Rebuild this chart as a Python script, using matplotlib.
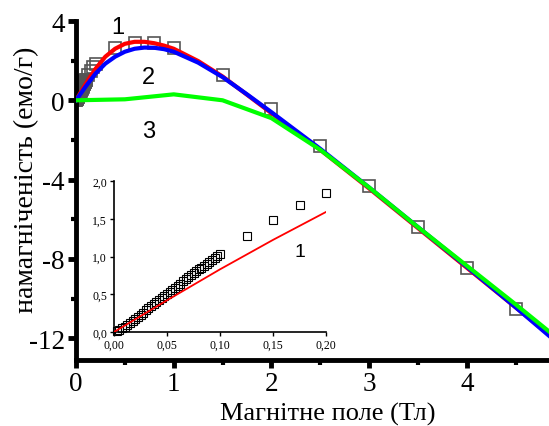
import matplotlib
matplotlib.use('Agg')
import matplotlib.pyplot as plt
from matplotlib.ticker import MultipleLocator, FixedLocator

# ---------------- data ----------------
# measured points (squares)
dense_x = [0.0025, 0.005, 0.0075, 0.01, 0.0125, 0.015, 0.0175, 0.02, 0.0225, 0.025,
           0.0275, 0.03, 0.0325, 0.035, 0.0375, 0.04, 0.0425, 0.045, 0.0475, 0.05,
           0.0525, 0.055, 0.0575, 0.06, 0.0625, 0.065, 0.0675, 0.07, 0.0725, 0.075,
           0.0775, 0.08, 0.0825, 0.085, 0.0875, 0.09, 0.0925, 0.095, 0.0975, 0.1]
dense_y = [0.015, 0.033, 0.052, 0.072, 0.094, 0.118, 0.143, 0.170, 0.198, 0.227,
           0.256, 0.285, 0.315, 0.344, 0.372, 0.400, 0.428, 0.455, 0.481, 0.507,
           0.534, 0.561, 0.588, 0.615, 0.642, 0.669, 0.696, 0.723, 0.749, 0.776,
           0.802, 0.828, 0.854, 0.880, 0.906, 0.932, 0.958, 0.984, 1.010, 1.036]
mid_x = [0.125, 0.15, 0.175, 0.2]
mid_y = [1.27, 1.49, 1.68, 1.84]
high_x = [0.4, 0.6, 0.8, 1.0, 1.5, 2.0, 2.5, 3.0, 3.5, 4.0, 4.5]
high_y = [2.65, 2.9, 2.9, 2.62, 1.27, -0.42, -2.3, -4.34, -6.4, -8.45, -10.55]

# curve 1 (red)
c1_x = [0, 0.05, 0.1, 0.15, 0.2, 0.3, 0.4, 0.5, 0.6, 0.7, 0.8, 0.9, 1.0, 1.25, 1.5,
        1.75, 2.0, 2.5, 3.0, 3.5, 4.0, 4.5, 5.0]
c1_y = [0, 0.42, 0.83, 1.22, 1.59, 2.2, 2.6, 2.85, 2.95, 2.95, 2.88, 2.76, 2.6, 1.98, 1.2,
        0.28, -0.65, -2.5, -4.45, -6.45, -8.45, -10.45, -12.45]
# curve 2 (blue)
c2_x = [0, 0.1, 0.2, 0.3, 0.4, 0.5, 0.6, 0.7, 0.8, 0.9, 1.0, 1.25, 1.5, 1.75, 2.0,
        2.5, 3.0, 3.5, 4.0, 4.5, 5.0]
c2_y = [0, 0.7, 1.35, 1.85, 2.2, 2.45, 2.6, 2.66, 2.65, 2.58, 2.45, 1.9, 1.17, 0.3, -0.6,
        -2.45, -4.4, -6.4, -8.4, -10.45, -12.55]
# curve 3 (green)
c3_x = [0, 0.5, 1.0, 1.5, 2.0, 2.5, 3.0, 3.5, 4.0, 4.5, 5.0]
c3_y = [0, 0.05, 0.3, 0.0, -0.9, -2.5, -4.4, -6.4, -8.35, -10.3, -12.3]

main_xticks = [0, 1, 2, 3, 4]
main_yticks = [-12, -8, -4, 0, 4]
inset_xticks = [0.0, 0.05, 0.10, 0.15, 0.20]
inset_xticklabels = ['0,00', '0,05', '0,10', '0,15', '0,20']
inset_yticks = [0.0, 0.5, 1.0, 1.5, 2.0]
inset_yticklabels = ['0,0', '0,5', '1,0', '1,5', '2,0']

SERIF = 'Liberation Serif'
SANS = 'Liberation Sans'

W, H = 549, 427
fig = plt.figure(figsize=(W / 100, H / 100), dpi=100)

# ---------------- main axes ----------------
ax = fig.add_axes([76 / W, 1 - 361 / H, 1 - 76 / W, (361 - 22) / H])
sq_x = dense_x + mid_x + high_x
sq_y = dense_y + mid_y + high_y
ax.plot(sq_x, sq_y, linestyle='none', marker='s', ms=8.5, mfc='none',
        mec='#555555', mew=1.2, zorder=2)
ax.plot(c1_x, c1_y, color='#ff0000', lw=3.0, zorder=3)
ax.plot(c2_x, c2_y, color='#0000ff', lw=3.0, zorder=4)
ax.plot(c3_x, c3_y, color='#00ff00', lw=3.0, zorder=5)

ax.set_xlim(0, 4.84)
ax.set_ylim(-13.1, 4.0)
for s in ['top', 'right']:
    ax.spines[s].set_visible(False)
for s in ['left', 'bottom']:
    ax.spines[s].set_linewidth(3.5)
ax.xaxis.set_major_locator(FixedLocator(main_xticks))
ax.yaxis.set_major_locator(FixedLocator(main_yticks))
ax.xaxis.set_minor_locator(MultipleLocator(0.5))
ax.yaxis.set_minor_locator(MultipleLocator(2))
ax.tick_params(which='major', direction='out', length=6, width=3.5, pad=2)
ax.tick_params(which='minor', direction='out', length=3.5, width=3)
ax.set_yticklabels([str(v) for v in main_yticks])
ax.set_xticklabels([str(v) for v in main_xticks])
for lab in ax.get_xticklabels() + ax.get_yticklabels():
    lab.set_fontfamily(SERIF)
    lab.set_fontsize(19.5)

ax.text(0.43, 3.72, '1', fontfamily=SANS, fontsize=17, ha='center', va='center')
ax.text(0.74, 1.17, '2', fontfamily=SANS, fontsize=17, ha='center', va='center')
ax.text(0.74, -1.53, '3', fontfamily=SANS, fontsize=17, ha='center', va='center')

fig.text(328 / W, 1 - 421 / H, 'Магнітне поле (Тл)', fontfamily=SERIF, fontsize=19,
         ha='center', va='baseline')
fig.text(27 / W, 1 - 180 / H, 'намагніченість (емо/г)', fontfamily=SERIF, fontsize=20,
         rotation=90, ha='center', va='center')

# ---------------- inset ----------------
ins = fig.add_axes([114 / W, 1 - 333 / H, (326 - 114) / W, (333 - 182) / H])
ins.patch.set_alpha(0)
ins.plot(dense_x + mid_x, dense_y + mid_y, linestyle='none', marker='s', ms=5.5,
         mfc='none', mec='black', mew=0.8, zorder=2, clip_on=False)
ins.plot(c1_x, c1_y, color='#ff0000', lw=1.3, zorder=3)
ins.set_xlim(0, 0.2)
ins.set_ylim(0, 2.0)
for s in ['top', 'right']:
    ins.spines[s].set_visible(False)
for s in ['left', 'bottom']:
    ins.spines[s].set_linewidth(1.2)
ins.set_xticks(inset_xticks)
ins.set_xticklabels(inset_xticklabels)
ins.set_yticks(inset_yticks)
ins.set_yticklabels(inset_yticklabels)
ins.tick_params(direction='out', length=3, width=1, pad=2)
for lab in ins.get_xticklabels() + ins.get_yticklabels():
    lab.set_fontfamily(SERIF)
    lab.set_fontsize(8.5)
ins.text(0.175, 1.07, '1', fontfamily=SANS, fontsize=14, ha='center', va='center')

fig.savefig('out.png', dpi=100)
